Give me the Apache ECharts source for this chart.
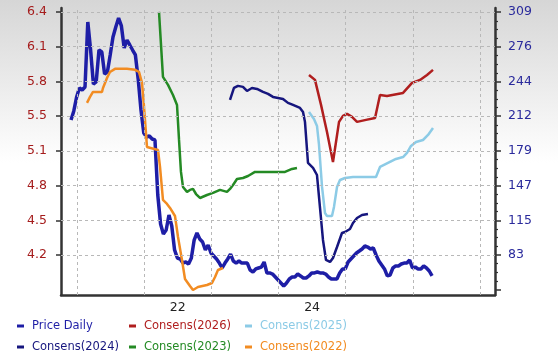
<!DOCTYPE html>
<html><head><meta charset="utf-8">
<script src="https://cdn.jsdelivr.net/npm/echarts@6/dist/echarts.min.js"></script>
<style>html,body{margin:0;padding:0;background:#fff}#c{width:558px;height:362px}</style>
</head><body><div id="c"></div>
<script>
// ---- data (decimal years on x) ----
const priceStart = 2020.911;   // first sample shown
const priceStep = 1 / 24;      // half-month samples
const priceValues = [
 208.6,217.0,230.0,238.4,236.5,239.3,299.8,273.7,242.1,244.0,
 273.7,271.9,251.4,253.3,269.1,285.8,295.1,303.5,296.1,275.6,
 283.0,278.4,273.7,269.1,246.8,217.9,196.5,192.8,193.7,190.9,
 190.0,138.8,111.8,102.5,106.3,120.2,110.0,87.7,80.2,79.3,
 75.5,76.5,74.6,80.2,96.9,103.5,97.9,95.1,87.7,92.3,
 84.9,82.1,79.3,75.5,70.9,75.5,79.3,83.9,77.4,75.5,
 77.4,75.5,75.5,75.5,69.0,67.2,70.0,70.9,71.8,76.5,
 66.3,66.3,65.3,62.5,59.7,57.0,54.2,57.0,60.7,62.5,
 62.5,65.3,63.5,61.6,61.6,63.5,66.3,66.3,67.2,66.3,
 66.3,65.3,62.5,60.7,60.7,60.7,66.3,70.0,70.0,76.5,
 79.3,82.1,84.9,86.7,88.6,91.4,90.4,88.6,89.5,83.0,
 77.4,73.7,70.0,63.5,64.4,70.9,72.8,72.8,74.6,75.5,
 75.5,78.3,70.9,71.8,70.0,70.0,72.8,70.9,68.1,63.5
];
const cons2022Dates = [2021.149,2021.194,2021.238,2021.372,2021.387,2021.447,2021.491,2021.566,2021.744,2021.864,2021.923,2021.968,2021.998,2022.027,2022.042,2022.206,2022.236,2022.280,2022.340,2022.385,2022.459,2022.504,2022.563,2022.608,2022.682,2022.727,2022.801,2022.935,2023.010,2023.055,2023.099,2023.174];
const cons2022Values = [5.577,5.631,5.676,5.676,5.712,5.803,5.857,5.885,5.885,5.876,5.857,5.758,5.540,5.305,5.178,5.151,4.997,4.698,4.662,4.626,4.553,4.363,4.155,3.983,3.919,3.883,3.910,3.928,3.946,4.001,4.064,4.082];
const cons2023Dates = [2022.221,2022.280,2022.355,2022.429,2022.489,2022.519,2022.548,2022.578,2022.638,2022.682,2022.727,2022.772,2022.831,2022.935,2023.025,2023.129,2023.233,2023.278,2023.323,2023.382,2023.471,2023.546,2023.650,2024.097,2024.201,2024.275];
const cons2023Values = [6.401,5.812,5.740,5.649,5.558,5.242,4.952,4.816,4.771,4.789,4.798,4.752,4.716,4.743,4.762,4.789,4.771,4.798,4.834,4.888,4.897,4.915,4.952,4.952,4.979,4.988];
const cons2024Dates = [2023.278,2023.337,2023.397,2023.471,2023.531,2023.605,2023.680,2023.769,2023.844,2023.918,2023.993,2024.067,2024.141,2024.216,2024.320,2024.365,2024.394,2024.439,2024.514,2024.573,2024.618,2024.662,2024.707,2024.767,2024.811,2024.871,2024.945,2024.990,2025.064,2025.109,2025.169,2025.243,2025.332];
const cons2024Values = [5.604,5.712,5.731,5.722,5.685,5.712,5.703,5.676,5.658,5.631,5.622,5.613,5.577,5.559,5.531,5.495,5.405,5.033,4.988,4.924,4.626,4.336,4.155,4.137,4.173,4.272,4.399,4.408,4.435,4.490,4.535,4.562,4.571];
const cons2025Dates = [2024.454,2024.528,2024.573,2024.603,2024.648,2024.692,2024.722,2024.796,2024.826,2024.871,2024.915,2024.990,2025.109,2025.243,2025.451,2025.511,2025.600,2025.749,2025.854,2025.913,2025.973,2026.047,2026.151,2026.226,2026.300];
const cons2025Values = [5.495,5.432,5.368,5.196,4.816,4.580,4.553,4.553,4.635,4.816,4.879,4.897,4.906,4.906,4.906,4.997,5.024,5.069,5.087,5.124,5.187,5.223,5.241,5.287,5.350];
const cons2026Dates = [2024.454,2024.543,2024.633,2024.722,2024.811,2024.856,2024.901,2024.960,2025.020,2025.094,2025.169,2025.303,2025.437,2025.511,2025.615,2025.854,2025.988,2026.107,2026.211,2026.300];
const cons2026Values = [5.830,5.785,5.559,5.314,5.042,5.223,5.405,5.459,5.477,5.450,5.405,5.423,5.441,5.649,5.640,5.667,5.758,5.785,5.830,5.876];

// ---- ticks / labels ----
const yearLines = [2021,2022,2023,2024,2025,2026,2027];
const xLabelValues = [2022.5, 2024.5];
const leftTickValues = [4.2,4.5143,4.8286,5.1429,5.4571,5.7714,6.0857,6.4];
const rightLabelValues = [83,115.29,147.57,179.86,212.14,244.43,276.71,309];
const rightTickValues = [50.71].concat(rightLabelValues);

const rightMinor = [];
for (let i = 0; i < rightTickValues.length - 1; i++) {
  const a = rightTickValues[i], b = rightTickValues[i + 1];
  for (let k = 1; k < 4; k++) rightMinor.push(a + (b - a) * k / 4);
}

const FONT = 'DejaVu Sans';
const colors = {
  price: '#1e1ea6', c2026: '#b01e1e', c2025: '#8ccbe6',
  c2024: '#16167e', c2023: '#248a24', c2022: '#f28c22'
};
const zip = (d, v) => d.map((x, i) => [x, v[i]]);

const chart = echarts.init(document.getElementById('c'), null, {renderer: 'canvas'});
const axisLineStyle = {color: '#333', width: 2.5};

const legendDefs = [
  ['Price Daily', colors.price, 17, 320],
  ['Consens(2026)', colors.c2026, 129, 320],
  ['Consens(2025)', colors.c2025, 245, 320],
  ['Consens(2024)', colors.c2024, 17, 341],
  ['Consens(2023)', colors.c2023, 129, 341],
  ['Consens(2022)', colors.c2022, 245, 341]
];

chart.setOption({
  animation: false,
  backgroundColor: {type: 'linear', x: 0, y: 0, x2: 0, y2: 1,
    colorStops: [{offset: 0, color: '#d6d6d6'}, {offset: 0.45, color: '#ffffff'}, {offset: 1, color: '#ffffff'}]},
  grid: {left: 61, right: 63, top: 8, bottom: 67, containLabel: false},
  legend: legendDefs.map(([n, c, l, t]) => ({
    data: [n], left: l, top: t, padding: 0, icon: 'rect', itemWidth: 7, itemHeight: 3,
    selectedMode: false,
    textStyle: {color: c, fontFamily: FONT, fontSize: 11.5, padding: [0, 0, 0, 3]}
  })),
  xAxis: {
    type: 'value', min: 2020.762, max: 2027.223,
    axisLine: {show: true, lineStyle: axisLineStyle},
    axisTick: {show: false}, splitLine: {show: false},
    axisLabel: {customValues: xLabelValues, formatter: v => String(Math.floor(v)).slice(2),
      color: '#222', fontFamily: FONT, fontSize: 12.5, margin: 6}
  },
  yAxis: [
    {type: 'value', position: 'left', min: 3.8377, max: 6.436,
      axisLine: {show: true, lineStyle: axisLineStyle},
      axisTick: {show: true, customValues: leftTickValues, length: 5, lineStyle: {color: '#333', width: 1.5}},
      axisLabel: {customValues: leftTickValues, formatter: v => v.toFixed(1), color: '#a51c1c',
        fontFamily: FONT, fontSize: 12.5, margin: 14},
      splitLine: {show: false}},
    {type: 'value', position: 'right', min: 45.78, max: 312.8,
      axisLine: {show: true, lineStyle: axisLineStyle},
      axisTick: {show: true, customValues: rightTickValues, length: 6, lineStyle: {color: '#333', width: 1.5}},
      axisLabel: {customValues: rightLabelValues, formatter: v => String(Math.floor(v + 1e-6)), color: '#2a2a9c',
        fontFamily: FONT, fontSize: 12.5, margin: 13},
      splitLine: {show: false}},
    {type: 'value', position: 'right', min: 45.78, max: 312.8,
      axisLine: {show: false},
      axisTick: {show: true, customValues: rightMinor, length: 3, lineStyle: {color: '#333', width: 1.2}},
      axisLabel: {show: false}, splitLine: {show: false}}
  ],
  series: [
    {type: 'line', name: 'grid', data: [], z: 1, silent: true, yAxisIndex: 0,
      markLine: {silent: true, symbol: 'none', animation: false, label: {show: false},
        emphasis: {disabled: true},
        lineStyle: {type: [3, 3], color: '#b8b8b8', width: 1},
        data: yearLines.map(v => ({xAxis: v})).concat(leftTickValues.map(v => ({yAxis: v})))}},
    {type: 'line', name: 'Price Daily', yAxisIndex: 1, data: priceValues.map((v, i) => [priceStart + i * priceStep, v]),
      showSymbol: false, lineStyle: {width: 3.5, color: colors.price}, itemStyle: {color: colors.price}, z: 3},
    {type: 'line', name: 'Consens(2026)', yAxisIndex: 0, data: zip(cons2026Dates, cons2026Values),
      showSymbol: false, lineStyle: {width: 2.5, color: colors.c2026}, itemStyle: {color: colors.c2026}, z: 4},
    {type: 'line', name: 'Consens(2025)', yAxisIndex: 0, data: zip(cons2025Dates, cons2025Values),
      showSymbol: false, lineStyle: {width: 2.5, color: colors.c2025}, itemStyle: {color: colors.c2025}, z: 4},
    {type: 'line', name: 'Consens(2024)', yAxisIndex: 0, data: zip(cons2024Dates, cons2024Values),
      showSymbol: false, lineStyle: {width: 2.5, color: colors.c2024}, itemStyle: {color: colors.c2024}, z: 4},
    {type: 'line', name: 'Consens(2023)', yAxisIndex: 0, data: zip(cons2023Dates, cons2023Values),
      showSymbol: false, lineStyle: {width: 2.5, color: colors.c2023}, itemStyle: {color: colors.c2023}, z: 4},
    {type: 'line', name: 'Consens(2022)', yAxisIndex: 0, data: zip(cons2022Dates, cons2022Values),
      showSymbol: false, lineStyle: {width: 2.5, color: colors.c2022}, itemStyle: {color: colors.c2022}, z: 4}
  ]
});
</script></body></html>
